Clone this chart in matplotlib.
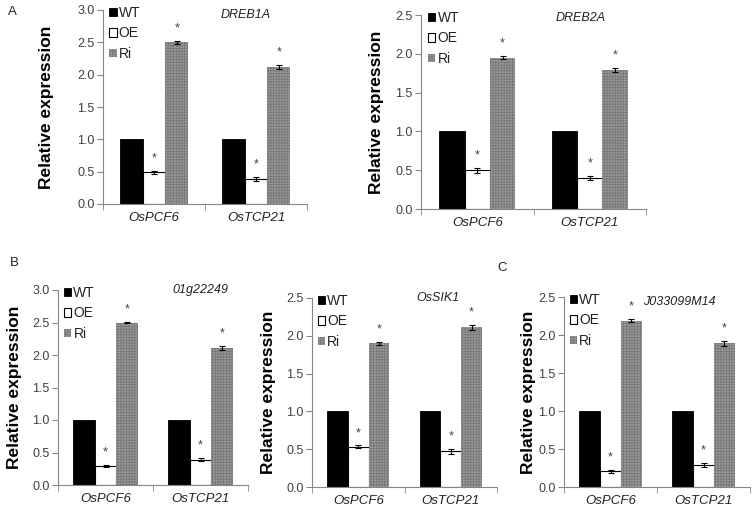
import matplotlib

matplotlib.use("Agg")
import matplotlib.pyplot as plt
import numpy as np

plt.rcParams["font.family"] = ["Liberation Sans", "DejaVu Sans"]
plt.rcParams["hatch.linewidth"] = 0.6

GENES = ["OsPCF6", "OsTCP21"]
SERIES = ["WT", "OE", "Ri"]

# one entry per panel
panel_titles = ["DREB1A", "DREB2A", "01g22249", "OsSIK1", "J033099M14"]
panel_ymax = [3.0, 2.5, 3.0, 2.5, 2.5]
wt_vals = [[1.0, 1.0], [1.0, 1.0], [1.0, 1.0], [1.0, 1.0], [1.0, 1.0]]
oe_vals = [[0.49, 0.39], [0.50, 0.40], [0.29, 0.39], [0.53, 0.47], [0.21, 0.29]]
oe_err = [[0.02, 0.03], [0.03, 0.03], [0.02, 0.02], [0.02, 0.03], [0.02, 0.03]]
ri_vals = [[2.50, 2.12], [1.95, 1.79], [2.50, 2.11], [1.90, 2.11], [2.19, 1.89]]
ri_err = [[0.02, 0.03], [0.02, 0.03], [0.01, 0.03], [0.02, 0.03], [0.02, 0.03]]

# axes boxes in pixels: left, top, right, bottom
boxes = [(103, 10, 307, 204), (421, 15, 646, 209), (58, 290, 248, 485),
         (312, 298, 497, 487), (564, 297, 750, 487)]
ylabel_x = [47, 376, 15, 268, 528]
title_pos = [(0.70, 0.975), (0.71, 0.985), (0.75, 1.0), (0.68, 1.0), (0.62, 0.975)]

W, H = 754, 512
AX_C = "#868686"
TXT_C = "#404040"

fig = plt.figure(figsize=(W / 100, H / 100), dpi=100)

bw = 0.225
x = np.arange(len(GENES))

for i in range(5):
    l, t, r, b = boxes[i]
    ax = fig.add_axes([l / W, 1 - b / H, (r - l) / W, (b - t) / H])
    ymax = panel_ymax[i]

    h1 = ax.bar(x - bw, wt_vals[i], bw, color="black", edgecolor="black",
                linewidth=0.6, label="WT")
    h2 = ax.bar(x, oe_vals[i], bw, color="white", edgecolor="black",
                linewidth=0.8, label="OE")
    h3 = ax.bar(x + bw, ri_vals[i], bw, color="#9a9a9a", edgecolor="#777777",
                hatch="++++++", linewidth=0, label="Ri")
    ax.errorbar(x, oe_vals[i], yerr=oe_err[i], fmt="none", ecolor="black",
                elinewidth=0.8, capsize=2.5, capthick=0.8)
    ax.errorbar(x + bw, ri_vals[i], yerr=ri_err[i], fmt="none", ecolor="black",
                elinewidth=0.8, capsize=2.5, capthick=0.8)

    for xs, vals, errs in ((x, oe_vals[i], oe_err[i]), (x + bw, ri_vals[i], ri_err[i])):
        for xx, v, e in zip(xs, vals, errs):
            ax.text(xx, v + e + 0.065 * ymax, "*", ha="center", va="center",
                    fontsize=9, color=TXT_C)

    ax.set_xlim(-0.5, 1.5)
    ax.set_ylim(0, ymax)
    ax.set_yticks(np.arange(0, ymax + 0.01, 0.5))
    ax.set_yticklabels([f"{v:.1f}" for v in np.arange(0, ymax + 0.01, 0.5)])
    ax.set_xticks(x)
    ax.set_xticklabels(GENES, fontstyle="italic", fontsize=9.5, color="#222222")
    ax.tick_params(axis="x", length=0, pad=6)
    ax.set_xticks([-0.5, 0.5, 1.5], minor=True)
    ax.tick_params(axis="x", which="minor", length=4, color=AX_C, direction="out")
    ax.tick_params(axis="y", length=4, color=AX_C, labelsize=9, labelcolor=TXT_C,
                   direction="out", pad=2)
    for s in ("top", "right"):
        ax.spines[s].set_visible(False)
    for s in ("left", "bottom"):
        ax.spines[s].set_color(AX_C)
        ax.spines[s].set_linewidth(0.8)

    ax.text(title_pos[i][0], title_pos[i][1], panel_titles[i], transform=ax.transAxes,
            ha="center", va="center", fontstyle="italic", fontsize=9,
            color="#222222")

    ax.legend(handles=[h1, h2, h3], loc="upper left", bbox_to_anchor=(0.03, 1.02),
              frameon=False, fontsize=10, handlelength=0.55, handleheight=0.55,
              handletextpad=0.15, labelspacing=0.45, borderpad=0, borderaxespad=0,
              labelcolor="#222222")

    fig.text(ylabel_x[i] / W, 1 - ((t + b) / 2) / H, "Relative expression",
             rotation=90, ha="center", va="center", fontsize=12.5,
             fontweight="bold", color="black")

for lab, px, py in (("A", 12, 12), ("B", 14, 263), ("C", 502, 268)):
    fig.text(px / W, 1 - py / H, lab, ha="center", va="center", fontsize=9.5,
             color="#222222")

fig.savefig("out.png", dpi=100)
